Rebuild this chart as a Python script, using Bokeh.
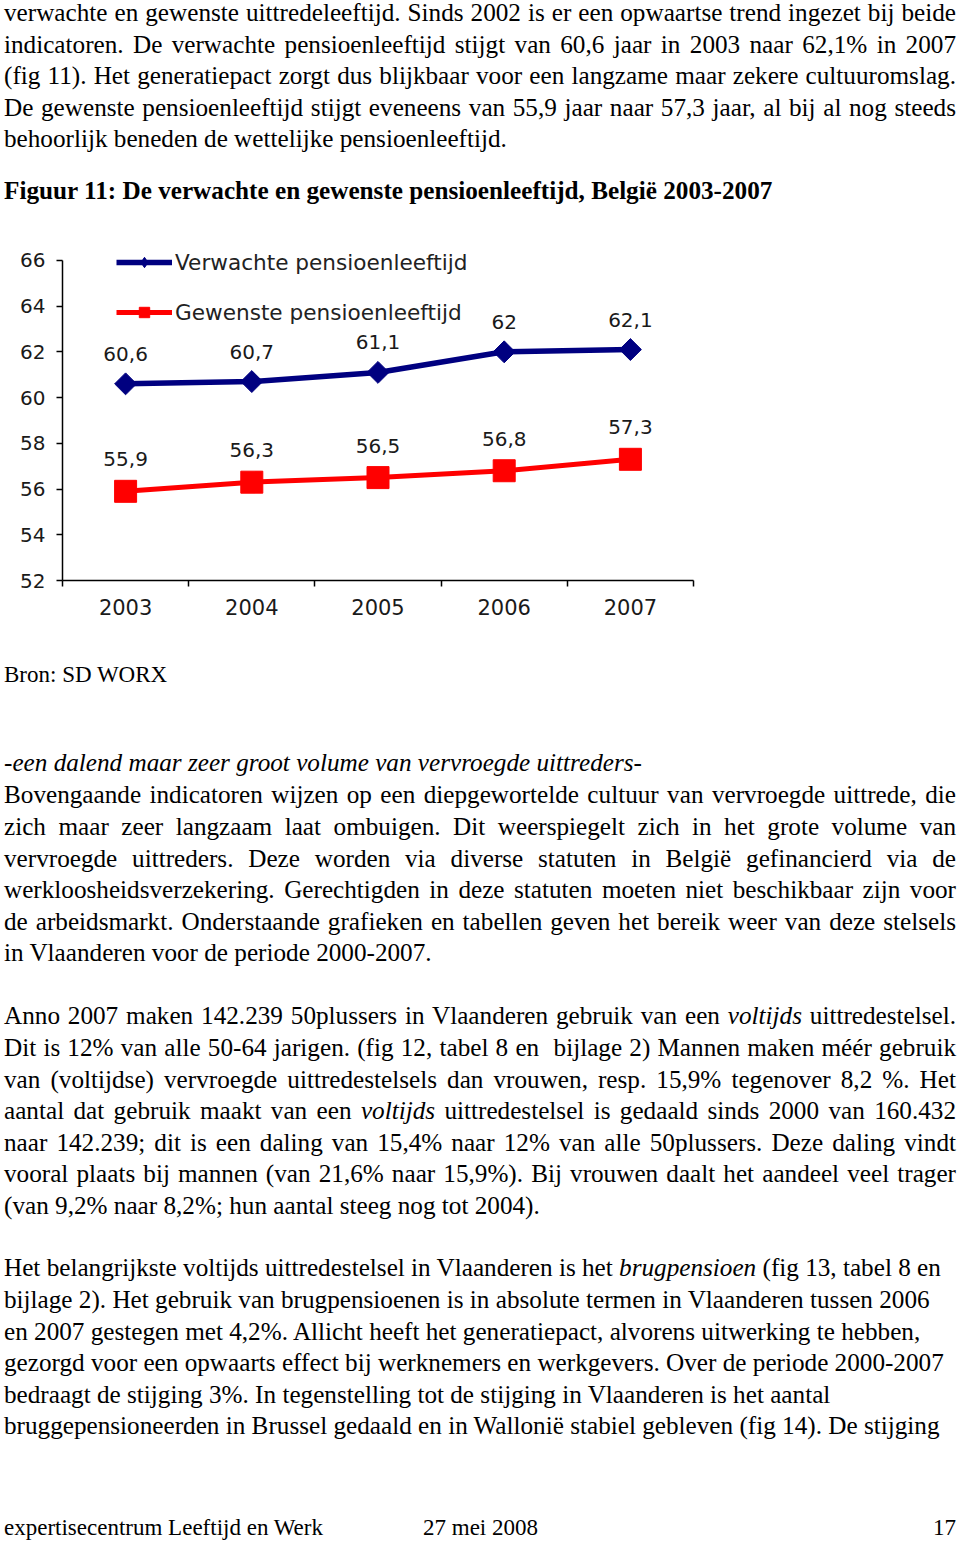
from bokeh.plotting import figure
from bokeh.models import Div, FixedTicker, Legend, LegendItem
from bokeh.layouts import column
from bokeh.core.properties import value
from bokeh.embed import file_html
from bokeh.resources import INLINE

# ---------------- chart data ----------------
years = ["2003", "2004", "2005", "2006", "2007"]
verwacht = [60.6, 60.7, 61.1, 62.0, 62.1]
gewenst = [55.9, 56.3, 56.5, 56.8, 57.3]
y_ticks = [52, 54, 56, 58, 60, 62, 64, 66]
series_names = ["Verwachte pensioenleeftijd", "Gewenste pensioenleeftijd"]

# ---------------- page text ----------------
top_lines = [
    ("verwachte en gewenste uittredeleeftijd. Sinds 2002 is er een opwaartse trend ingezet bij beide", "j"),
    ("indicatoren. De verwachte pensioenleeftijd stijgt van 60,6 jaar in 2003 naar 62,1% in 2007", "j"),
    ("(fig 11). Het generatiepact zorgt dus blijkbaar voor een langzame maar zekere cultuuromslag.", "j"),
    ("De gewenste pensioenleeftijd stijgt eveneens van 55,9 jaar naar 57,3 jaar, al bij al nog steeds", "j"),
    ("behoorlijk beneden de wettelijke pensioenleeftijd.", "l"),
]
title_line = "Figuur 11: De verwachte en gewenste pensioenleeftijd, België 2003-2007"
source_line = "Bron: SD WORX"
subhead_line = "-een dalend maar zeer groot volume van vervroegde uittreders-"
para2 = [
    ("Bovengaande indicatoren wijzen op een diepgewortelde cultuur van vervroegde uittrede, die", "j"),
    ("zich maar zeer langzaam laat ombuigen. Dit weerspiegelt zich in het grote volume van", "j"),
    ("vervroegde uittreders. Deze worden via diverse statuten in België gefinancierd via de", "j"),
    ("werkloosheidsverzekering. Gerechtigden in deze statuten moeten niet beschikbaar zijn voor", "j"),
    ("de arbeidsmarkt. Onderstaande grafieken en tabellen geven het bereik weer van deze stelsels", "j"),
    ("in Vlaanderen voor de periode 2000-2007.", "l"),
]
para3 = [
    ("Anno 2007 maken 142.239 50plussers in Vlaanderen gebruik van een <i>voltijds</i> uittredestelsel.", "j"),
    ("Dit is 12% van alle 50-64 jarigen. (fig 12, tabel 8 en&nbsp; bijlage 2) Mannen maken méér gebruik", "j"),
    ("van (voltijdse) vervroegde uittredestelsels dan vrouwen, resp. 15,9% tegenover 8,2 %. Het", "j"),
    ("aantal dat gebruik maakt van een <i>voltijds</i> uittredestelsel is gedaald sinds 2000 van 160.432", "j"),
    ("naar 142.239; dit is een daling van 15,4% naar 12% van alle 50plussers. Deze daling vindt", "j"),
    ("vooral plaats bij mannen (van 21,6% naar 15,9%). Bij vrouwen daalt het aandeel veel trager", "j"),
    ("(van 9,2% naar 8,2%; hun aantal steeg nog tot 2004).", "l"),
]
para4 = [
    ("Het belangrijkste voltijds uittredestelsel in Vlaanderen is het <i>brugpensioen</i> (fig 13, tabel 8 en", "l"),
    ("bijlage 2). Het gebruik van brugpensioenen is in absolute termen in Vlaanderen tussen 2006", "l"),
    ("en 2007 gestegen met 4,2%. Allicht heeft het generatiepact, alvorens uitwerking te hebben,", "l"),
    ("gezorgd voor een opwaarts effect bij werknemers en werkgevers. Over de periode 2000-2007", "l"),
    ("bedraagt de stijging 3%. In tegenstelling tot de stijging in Vlaanderen is het aantal", "l"),
    ("bruggepensioneerden in Brussel gedaald en in Wallonië stabiel gebleven (fig 14). De stijging", "l"),
]
footer_left = "expertisecentrum Leeftijd en Werk"
footer_mid = "27 mei 2008"
footer_right = "17"

FONT = "'Liberation Serif','Times New Roman',serif"
FS = 25.2
LH = 31.5


def line_html(text, top, mode="l", left=4, width=952, extra="", fs=FS):
    align = "text-align:justify;text-align-last:justify;" if mode == "j" else (
        "text-align:right;" if mode == "r" else "text-align:left;")
    return (f'<div style="position:absolute;left:{left}px;top:{top:.2f}px;width:{width}px;'
            f'height:{LH}px;line-height:{LH}px;font-family:{FONT};font-size:{fs}px;'
            f'color:#000;white-space:nowrap;{align}{extra}">{text}</div>')


def block(lines, height):
    return (f'<div style="position:relative;width:956px;height:{height}px;overflow:visible;">'
            + "".join(lines) + "</div>")


# top block
TOP_H = 225
top_centers = [13, 44.5, 76, 107.5, 139]
tl = [line_html(t, c - LH / 2, m) for (t, m), c in zip(top_lines, top_centers)]
tl.append(line_html(title_line, 191 - LH / 2, "l", extra="font-weight:bold;"))
div_top = Div(text=block(tl, TOP_H), width=956, height=TOP_H, margin=0)

# chart
FIG_TOP = TOP_H
p = figure(x_range=(0, 5), y_range=(52, 67), frame_width=631, frame_height=343,
           min_border_left=62, min_border_right=263, min_border_top=12, min_border_bottom=65,
           output_backend="svg", toolbar_location=None, margin=0)
p.outline_line_color = None
p.xgrid.visible = False
p.ygrid.visible = False
p.background_fill_color = "white"
p.border_fill_color = "white"

xs = [i + 0.5 for i in range(len(years))]

l1 = p.line(xs, verwacht, line_color="#000080", line_width=5.5)
# small diamond drawn underneath the big markers; it provides the legend's diamond symbol
s1_leg = p.scatter(xs, verwacht, marker="diamond", size=10,
                   fill_color="#000080", line_color="#000080")
s1 = p.scatter(xs, verwacht, marker="square", size=15.5, angle=0.785398,
               fill_color="#000080", line_color="#000080")
l2 = p.line(xs, gewenst, line_color="#FF0000", line_width=5)
s2 = p.scatter(xs, gewenst, marker="square", size=22, fill_color="#FF0000", line_color="#FF0000")


def fmt(v):
    return f"{v:g}".replace(".", ",")


p.text(xs, verwacht, text=[fmt(v) for v in verwacht], text_align="center", text_baseline="middle",
       y_offset=-30, text_font=value("DejaVu Sans"), text_font_size="20px", text_color="#1a1a1a")
p.text(xs, gewenst, text=[fmt(v) for v in gewenst], text_align="center", text_baseline="middle",
       y_offset=-32, text_font=value("DejaVu Sans"), text_font_size="20px", text_color="#1a1a1a")

# axes
xa = p.xaxis[0]
xa.ticker = FixedTicker(ticks=xs, minor_ticks=list(range(len(years) + 1)))
xa.major_label_overrides = {x: y for x, y in zip(xs, years)}
xa.major_tick_in = 0
xa.major_tick_out = 0
xa.minor_tick_in = 0
xa.minor_tick_out = 6
xa.minor_tick_line_color = "black"
xa.minor_tick_line_width = 1.5
xa.axis_line_color = "black"
xa.axis_line_width = 1.5
xa.major_label_standoff = 12
xa.major_label_text_font = "DejaVu Sans"
xa.major_label_text_font_size = "21px"
xa.major_label_text_color = "#1a1a1a"

ya = p.yaxis[0]
ya.bounds = (52, 66)
ya.ticker = FixedTicker(ticks=y_ticks, minor_ticks=[])
ya.major_tick_in = 0
ya.major_tick_out = 6
ya.minor_tick_out = 0
ya.minor_tick_in = 0
ya.major_tick_line_width = 1.5
ya.axis_line_width = 1.5
ya.axis_line_color = "black"
ya.major_label_standoff = 11
ya.major_label_text_font = "DejaVu Sans"
ya.major_label_text_font_size = "20px"
ya.major_label_text_color = "#1a1a1a"

legend = Legend(items=[LegendItem(label=series_names[0], renderers=[l1, s1_leg]),
                       LegendItem(label=series_names[1], renderers=[l2, s2])],
                location=(54, 255), glyph_width=56, glyph_height=26, label_height=26,
                label_standoff=3, spacing=24, padding=0, margin=0,
                border_line_color=None, background_fill_alpha=0,
                label_text_font="DejaVu Sans", label_text_font_size="21.6px",
                label_text_color="#222222")
p.add_layout(legend)

# bottom block
BOT_TOP = FIG_TOP + 420
BOT_H = 1533 - BOT_TOP


def bt(c):
    return c - BOT_TOP - LH / 2


bl = [line_html(source_line, bt(675), "l", fs=23),
      line_html(subhead_line, bt(763), "l", extra="font-style:italic;")]
for (t, m), c in zip(para2, [795, 827, 858.5, 890, 921.5, 953]):
    bl.append(line_html(t, bt(c), m))
for (t, m), c in zip(para3, [1016, 1048, 1079.5, 1111, 1142.5, 1174, 1205.5]):
    bl.append(line_html(t, bt(c), m))
for (t, m), c in zip(para4, [1268, 1300, 1331.5, 1363, 1394.5, 1426]):
    bl.append(line_html(t, bt(c), m))
bl.append(line_html(footer_left, bt(1528), "l", width=400, fs=23))
bl.append(line_html(footer_mid, bt(1528), "l", left=423, width=300, fs=23))
bl.append(line_html(footer_right, bt(1528), "r", left=756, width=200, fs=23))
div_bot = Div(text=block(bl, BOT_H), width=956, height=BOT_H, margin=0)

page = column(div_top, p, div_bot, spacing=0, margin=0)

with open("out.html", "w", encoding="utf-8") as f:
    f.write(file_html(page, INLINE))
